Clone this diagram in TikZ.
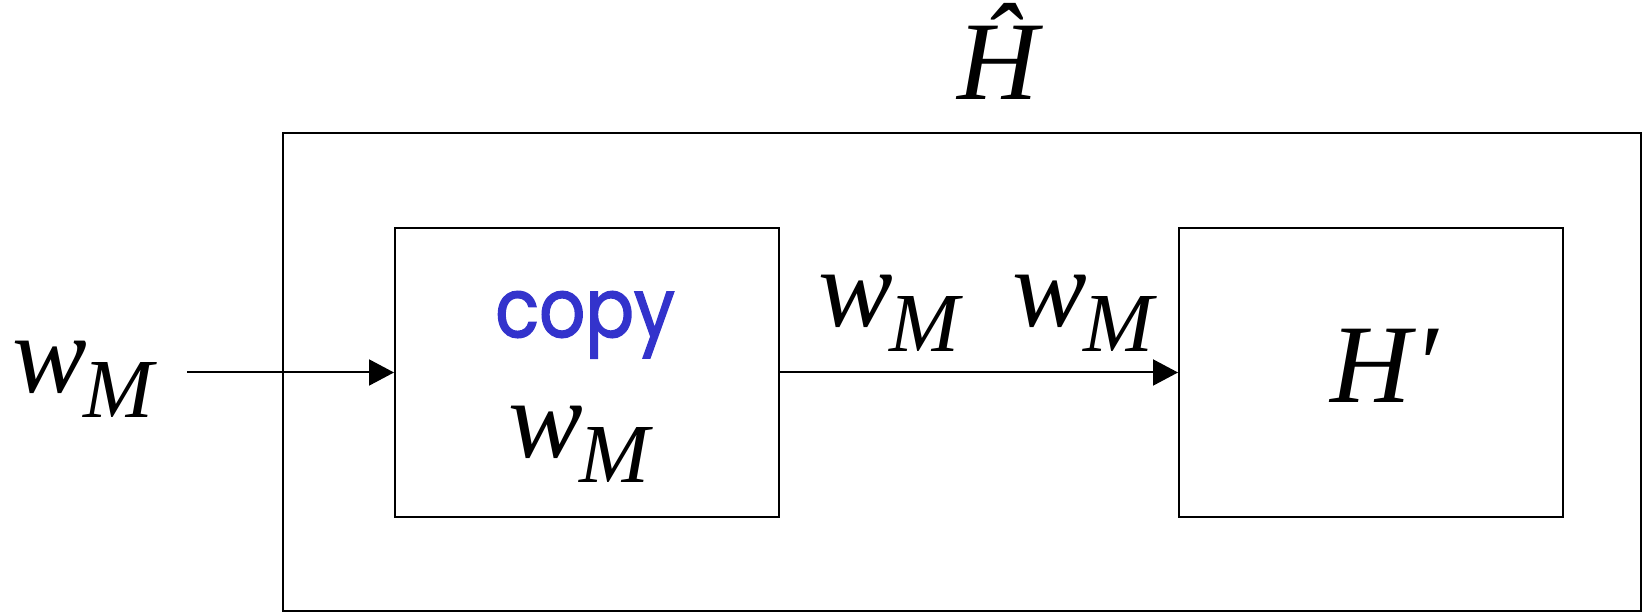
\documentclass[tikz,border=0pt]{standalone}
\usepackage{fontspec}
\setmainfont{Liberation Serif}
\newfontfamily\copyfont[FakeBold=2]{Poppins}
\usepackage{tikz}
\usetikzlibrary{arrows.meta,positioning}
\definecolor{ink}{HTML}{000000}
\definecolor{cpy}{HTML}{3333CC}
\newcommand{\wM}{{\fontsize{56}{56}\selectfont\itshape w}\kern-2pt\raisebox{-12.5pt}{\fontsize{42}{42}\selectfont\itshape M}}
\begin{document}
\begin{tikzpicture}[x=0.5pt,y=-0.5pt,
  blk/.style={draw=ink,line width=1pt,inner sep=0pt},
  flow/.style={ink,line width=1pt,-{Triangle[length=12.5pt,width=13pt]}},
  lbl/.style={anchor=base west,inner sep=0pt,ink}]
\useasboundingbox (0,0) rectangle (1643,613);
% boxes
\node[blk,minimum width=679pt,minimum height=239pt] (hhat) at (962,372) {};
\node[blk,minimum width=192pt,minimum height=144.5pt] (copybox) at (587,372.5) {};
\node[blk,minimum width=192pt,minimum height=144.5pt] (hprime) at (1371,372.5) {};
\coordinate (in) at (187,372.5);
% connectors
\draw[flow] (in) -- (copybox.west);
\draw[flow] (copybox.east) -- (hprime.west);
% labels
\node[lbl] (win) at (12,393) {\wM};
\node[lbl] (wcopy) at (508,458) {\wM};
\foreach \xx/\nm in {818/wa,1012/wb}
  \node[lbl] (\nm) at (\xx,327) {\wM};
\node[anchor=base,inner sep=0pt,cpy] (copytxt) at (585,337)
  {\scalebox{0.88}[1]{\fontsize{41}{41}\copyfont copy}};
\node[anchor=base west,inner sep=0pt] (hp) at (1330,403) {\fontsize{56}{56}\selectfont\itshape H\kern1pt′};
\node[anchor=base west,inner sep=0pt] (ht) at (957,100) {\fontsize{56}{56}\selectfont\itshape Ĥ};
\end{tikzpicture}
\end{document}
